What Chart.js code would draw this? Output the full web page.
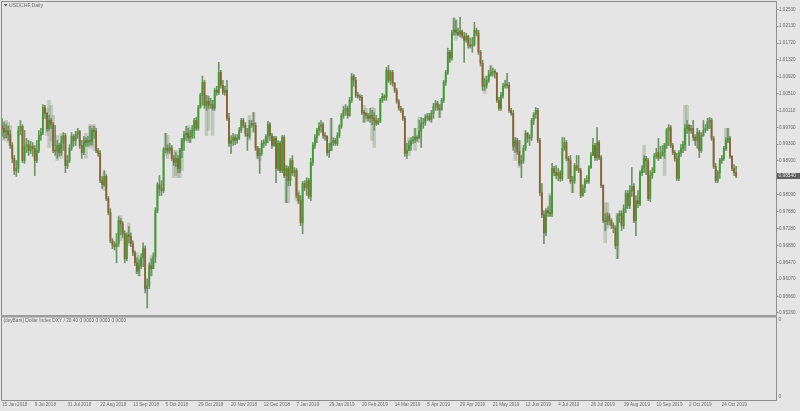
<!DOCTYPE html>
<html><head><meta charset="utf-8">
<script src="https://cdn.jsdelivr.net/npm/chart.js@4/dist/chart.umd.min.js"></script>
<style>html,body{margin:0;padding:0;background:#e5e5e5;}canvas{display:block;background:#e5e5e5;}</style>
</head><body>
<canvas id="c" width="800" height="411"></canvas>
<script>
const chartTitle = 'USDCHF,Daily';
const subTitle = '(dxyBars) Dollar Index DXY / 20.40 0.0000 0.0000 0.0000';
const tickLabels = ['15 Jun 2018','9 Jul 2018','31 Jul 2018','22 Aug 2018','13 Sep 2018','5 Oct 2018','29 Oct 2018','20 Nov 2018','12 Dec 2018','7 Jan 2019','29 Jan 2019','20 Feb 2019','14 Mar 2019','5 Apr 2019','29 Apr 2019','21 May 2019','12 Jun 2019','4 Jul 2019','26 Jul 2019','19 Aug 2019','10 Sep 2019','2 Oct 2019','24 Oct 2019'];
const barsPerTick = 16;
const totalSlots = 379;
const priceTicks = [1.02530,1.02130,1.01720,1.01320,1.00920,1.00510,1.00110,0.99700,0.99300,0.98900,0.98490,0.98090,0.97680,0.97280,0.96880,0.96470,0.96070,0.95660,0.95260];
const lastPrice = 0.98540;

const open = [
0.9975,0.9968,0.9958,0.9963,0.9953,0.9927,0.9896,0.9867,0.9872,0.9963,
0.9973,0.9891,0.9925,0.9929,0.9915,0.9925,0.9920,0.9891,0.9915,0.9951,
0.9958,1.0018,1.0004,0.9968,0.9987,0.9977,0.9915,0.9913,0.9927,0.9910,
0.9934,0.9951,0.9879,0.9891,0.9920,0.9949,0.9939,0.9953,0.9961,0.9927,
0.9910,0.9939,0.9934,0.9939,0.9937,0.9963,0.9961,0.9915,0.9908,0.9843,
0.9833,0.9853,0.9800,0.9766,0.9699,0.9689,0.9685,0.9692,0.9747,0.9740,
0.9716,0.9656,0.9713,0.9709,0.9692,0.9670,0.9646,0.9627,0.9639,0.9658,
0.9680,0.9584,0.9591,0.9639,0.9632,0.9661,0.9771,0.9833,0.9824,0.9819,
0.9917,0.9920,0.9915,0.9922,0.9896,0.9886,0.9896,0.9872,0.9915,0.9939,
0.9953,0.9956,0.9946,0.9949,0.9963,0.9987,0.9968,1.0018,1.0047,1.0078,
1.0023,1.0033,1.0023,1.0025,1.0016,1.0059,1.0054,1.0102,1.0071,1.0054,
1.0059,0.9992,0.9932,0.9939,0.9946,0.9939,0.9944,0.9963,0.9987,0.9975,
0.9956,0.9949,0.9975,0.9980,0.9975,0.9920,0.9903,0.9908,0.9932,0.9934,
0.9949,0.9977,0.9951,0.9927,0.9944,0.9872,0.9932,0.9867,0.9946,0.9855,
0.9872,0.9843,0.9891,0.9862,0.9867,0.9807,0.9795,0.9742,0.9836,0.9826,
0.9843,0.9805,0.9886,0.9927,0.9946,0.9963,0.9973,0.9977,0.9951,0.9949,
0.9910,0.9915,0.9934,0.9939,0.9932,0.9951,0.9973,0.9999,1.0011,1.0016,
0.9999,1.0035,1.0093,1.0083,1.0047,1.0045,1.0042,1.0006,1.0004,0.9999,
0.9992,0.9999,0.9992,0.9987,0.9980,0.9985,1.0035,1.0045,1.0042,1.0107,
1.0083,1.0102,1.0076,1.0059,1.0033,1.0016,1.0011,0.9992,0.9908,0.9915,
0.9927,0.9939,0.9941,0.9946,0.9944,0.9961,0.9980,0.9982,0.9994,0.9997,
0.9989,1.0004,1.0021,1.0028,1.0016,1.0013,1.0035,1.0078,1.0102,1.0150,
1.0136,1.0198,1.0203,1.0198,1.0193,1.0201,1.0189,1.0179,1.0189,1.0167,
1.0165,1.0169,1.0203,1.0196,1.0150,1.0124,1.0069,1.0071,1.0083,1.0097,
1.0102,1.0105,1.0100,1.0035,1.0016,1.0047,1.0069,1.0073,1.0071,1.0011,
1.0004,0.9925,0.9939,0.9913,0.9884,0.9891,0.9920,0.9956,0.9944,0.9946,
0.9987,1.0001,1.0011,0.9939,0.9814,0.9761,0.9718,0.9771,0.9766,0.9764,
0.9872,0.9862,0.9855,0.9862,0.9848,0.9920,0.9934,0.9896,0.9891,0.9841,
0.9843,0.9879,0.9872,0.9867,0.9807,0.9826,0.9843,0.9841,0.9874,0.9903,
0.9927,0.9898,0.9934,0.9898,0.9831,0.9747,0.9745,0.9759,0.9747,0.9735,
0.9730,0.9687,0.9759,0.9764,0.9735,0.9776,0.9812,0.9783,0.9819,0.9829,
0.9747,0.9795,0.9788,0.9862,0.9872,0.9896,0.9891,0.9800,0.9855,0.9862,
0.9901,0.9910,0.9896,0.9903,0.9910,0.9927,0.9963,0.9970,0.9927,0.9910,
0.9896,0.9848,0.9910,0.9920,0.9929,0.9968,0.9975,0.9963,0.9968,0.9946,
0.9939,0.9958,0.9915,0.9951,0.9963,0.9968,0.9982,0.9987,0.9944,0.9877,
0.9843,0.9862,0.9891,0.9896,0.9920,0.9939,0.9944,0.9901,0.9872,0.9862];

const high = [
0.9992,0.9982,0.9977,0.9973,0.9963,0.9934,0.9903,0.9891,0.9973,0.9987,
0.9977,0.9963,0.9944,0.9939,0.9937,0.9934,0.9927,0.9939,0.9963,0.9968,
1.0025,1.0023,1.0006,0.9999,0.9992,0.9982,0.9975,0.9939,0.9932,0.9949,
0.9958,0.9956,0.9903,0.9929,0.9958,0.9953,0.9961,0.9968,0.9963,0.9939,
0.9949,0.9946,0.9949,0.9973,0.9968,0.9973,0.9968,0.9920,0.9915,0.9853,
0.9867,0.9857,0.9805,0.9776,0.9704,0.9697,0.9716,0.9757,0.9752,0.9745,
0.9723,0.9718,0.9733,0.9718,0.9699,0.9675,0.9658,0.9653,0.9668,0.9694,
0.9687,0.9608,0.9646,0.9656,0.9670,0.9778,0.9838,0.9855,0.9843,0.9922,
0.9956,0.9929,0.9932,0.9927,0.9903,0.9910,0.9903,0.9920,0.9944,0.9961,
0.9973,0.9968,0.9963,0.9975,0.9992,0.9994,1.0023,1.0052,1.0093,1.0083,
1.0047,1.0045,1.0040,1.0035,1.0064,1.0069,1.0126,1.0107,1.0083,1.0069,
1.0083,1.0004,0.9951,0.9956,0.9953,0.9953,0.9970,0.9992,0.9992,0.9982,
0.9968,0.9987,0.9987,1.0006,0.9982,0.9925,0.9920,0.9939,0.9941,0.9953,
0.9985,0.9982,0.9956,0.9949,0.9949,0.9939,0.9937,0.9951,0.9951,0.9879,
0.9877,0.9896,0.9903,0.9874,0.9872,0.9814,0.9807,0.9841,0.9843,0.9850,
0.9848,0.9896,0.9934,0.9953,0.9968,0.9982,0.9987,0.9982,0.9958,0.9951,
0.9932,0.9992,0.9946,0.9944,0.9958,0.9977,1.0004,1.0021,1.0025,1.0021,
1.0042,1.0100,1.0097,1.0090,1.0054,1.0049,1.0047,1.0011,1.0006,1.0004,
1.0016,1.0011,1.0006,0.9999,0.9992,1.0040,1.0052,1.0049,1.0114,1.0119,
1.0107,1.0107,1.0078,1.0064,1.0037,1.0021,1.0016,0.9997,0.9932,0.9939,
0.9946,0.9949,0.9968,0.9951,0.9987,0.9994,0.9992,1.0001,1.0004,1.0004,
1.0011,1.0028,1.0035,1.0033,1.0025,1.0040,1.0083,1.0107,1.0160,1.0155,
1.0203,1.0232,1.0227,1.0208,1.0234,1.0203,1.0198,1.0196,1.0191,1.0184,
1.0186,1.0222,1.0208,1.0203,1.0155,1.0131,1.0088,1.0093,1.0107,1.0117,
1.0112,1.0109,1.0102,1.0042,1.0054,1.0076,1.0083,1.0100,1.0078,1.0016,
1.0011,0.9946,0.9944,0.9939,0.9903,0.9927,0.9963,0.9958,0.9953,0.9992,
1.0006,1.0018,1.0016,0.9944,0.9836,0.9771,0.9776,0.9781,0.9807,0.9884,
0.9877,0.9879,0.9872,0.9867,0.9946,0.9946,0.9939,0.9901,0.9903,0.9853,
0.9884,0.9903,0.9903,0.9872,0.9833,0.9848,0.9855,0.9879,0.9910,0.9944,
0.9932,0.9970,0.9939,0.9903,0.9833,0.9764,0.9766,0.9764,0.9752,0.9742,
0.9735,0.9764,0.9771,0.9771,0.9785,0.9819,0.9819,0.9831,0.9874,0.9836,
0.9807,0.9819,0.9867,0.9879,0.9903,0.9901,0.9896,0.9867,0.9874,0.9908,
0.9920,0.9944,0.9925,0.9927,0.9932,0.9968,0.9977,0.9975,0.9932,0.9915,
0.9908,0.9915,0.9929,0.9937,0.9977,0.9987,0.9977,0.9975,0.9987,0.9953,
0.9968,0.9963,0.9958,0.9987,0.9977,0.9992,0.9994,0.9992,0.9949,0.9884,
0.9867,0.9896,0.9903,0.9925,0.9946,0.9968,0.9949,0.9903,0.9881,0.9877];

const low = [
0.9949,0.9944,0.9946,0.9939,0.9920,0.9886,0.9857,0.9853,0.9862,0.9953,
0.9886,0.9884,0.9910,0.9903,0.9908,0.9901,0.9855,0.9886,0.9910,0.9939,
0.9953,0.9992,0.9961,0.9963,0.9968,0.9910,0.9903,0.9896,0.9901,0.9903,
0.9915,0.9862,0.9872,0.9886,0.9915,0.9925,0.9927,0.9944,0.9920,0.9896,
0.9905,0.9925,0.9925,0.9927,0.9929,0.9944,0.9910,0.9901,0.9838,0.9824,
0.9829,0.9795,0.9761,0.9694,0.9680,0.9677,0.9646,0.9685,0.9713,0.9706,
0.9646,0.9651,0.9694,0.9685,0.9663,0.9639,0.9620,0.9615,0.9632,0.9637,
0.9574,0.9538,0.9584,0.9615,0.9632,0.9646,0.9766,0.9807,0.9807,0.9814,
0.9910,0.9908,0.9908,0.9891,0.9879,0.9877,0.9862,0.9862,0.9898,0.9915,
0.9939,0.9939,0.9934,0.9944,0.9944,0.9963,0.9963,1.0016,1.0023,1.0016,
1.0011,1.0016,1.0016,1.0011,1.0011,1.0047,1.0049,1.0064,1.0049,1.0047,
0.9987,0.9925,0.9908,0.9927,0.9929,0.9932,0.9941,0.9958,0.9970,0.9949,
0.9915,0.9944,0.9970,0.9961,0.9915,0.9896,0.9860,0.9903,0.9922,0.9927,
0.9934,0.9939,0.9920,0.9925,0.9838,0.9867,0.9862,0.9862,0.9850,0.9790,
0.9831,0.9831,0.9855,0.9853,0.9802,0.9788,0.9735,0.9716,0.9819,0.9807,
0.9800,0.9795,0.9879,0.9920,0.9934,0.9951,0.9958,0.9944,0.9939,0.9903,
0.9898,0.9915,0.9927,0.9927,0.9927,0.9946,0.9968,0.9992,0.9999,0.9992,
0.9997,1.0030,1.0069,1.0042,1.0040,1.0035,1.0001,0.9982,0.9992,0.9985,
0.9982,0.9977,0.9963,0.9975,0.9977,0.9982,1.0030,1.0035,1.0035,1.0078,
1.0073,1.0069,1.0054,1.0028,1.0011,1.0006,0.9987,0.9901,0.9896,0.9915,
0.9915,0.9932,0.9934,0.9937,0.9944,0.9922,0.9968,0.9975,0.9987,0.9985,
0.9982,0.9992,1.0011,1.0011,0.9994,1.0011,1.0030,1.0071,1.0097,1.0126,
1.0131,1.0191,1.0191,1.0189,1.0186,1.0184,1.0126,1.0174,1.0160,1.0160,
1.0150,1.0165,1.0189,1.0145,1.0117,1.0059,1.0059,1.0064,1.0078,1.0093,
1.0093,1.0088,1.0030,1.0011,1.0011,1.0040,1.0064,1.0064,1.0006,0.9999,
0.9915,0.9910,0.9905,0.9879,0.9850,0.9884,0.9915,0.9934,0.9927,0.9939,
0.9977,0.9992,0.9934,0.9807,0.9754,0.9692,0.9711,0.9757,0.9757,0.9757,
0.9855,0.9848,0.9843,0.9841,0.9843,0.9915,0.9891,0.9848,0.9836,0.9814,
0.9836,0.9867,0.9862,0.9802,0.9805,0.9814,0.9836,0.9836,0.9872,0.9903,
0.9891,0.9891,0.9893,0.9826,0.9742,0.9723,0.9737,0.9737,0.9728,0.9718,
0.9680,0.9656,0.9742,0.9723,0.9728,0.9766,0.9776,0.9776,0.9805,0.9742,
0.9711,0.9778,0.9783,0.9855,0.9862,0.9857,0.9795,0.9793,0.9848,0.9862,
0.9896,0.9891,0.9896,0.9901,0.9896,0.9920,0.9927,0.9922,0.9905,0.9889,
0.9843,0.9843,0.9901,0.9910,0.9915,0.9956,0.9927,0.9956,0.9939,0.9927,
0.9920,0.9898,0.9910,0.9949,0.9958,0.9963,0.9968,0.9939,0.9872,0.9838,
0.9838,0.9848,0.9884,0.9891,0.9915,0.9934,0.9896,0.9867,0.9855,0.9850];

const close = [
0.9968,0.9958,0.9963,0.9953,0.9927,0.9896,0.9867,0.9872,0.9963,0.9973,
0.9891,0.9925,0.9929,0.9915,0.9925,0.9920,0.9891,0.9915,0.9951,0.9958,
1.0018,1.0004,0.9968,0.9987,0.9977,0.9915,0.9913,0.9927,0.9910,0.9934,
0.9951,0.9879,0.9891,0.9920,0.9949,0.9939,0.9953,0.9961,0.9927,0.9910,
0.9939,0.9934,0.9939,0.9937,0.9963,0.9961,0.9915,0.9908,0.9843,0.9833,
0.9853,0.9800,0.9766,0.9699,0.9689,0.9685,0.9692,0.9747,0.9740,0.9716,
0.9656,0.9713,0.9709,0.9692,0.9670,0.9646,0.9627,0.9639,0.9658,0.9680,
0.9584,0.9591,0.9639,0.9632,0.9661,0.9771,0.9833,0.9824,0.9819,0.9917,
0.9920,0.9915,0.9922,0.9896,0.9886,0.9896,0.9872,0.9915,0.9939,0.9953,
0.9956,0.9946,0.9949,0.9963,0.9987,0.9968,1.0018,1.0047,1.0078,1.0023,
1.0033,1.0023,1.0025,1.0016,1.0059,1.0054,1.0102,1.0071,1.0054,1.0059,
0.9992,0.9932,0.9939,0.9946,0.9939,0.9944,0.9963,0.9987,0.9975,0.9956,
0.9949,0.9975,0.9980,0.9975,0.9920,0.9903,0.9908,0.9932,0.9934,0.9949,
0.9977,0.9951,0.9927,0.9944,0.9872,0.9932,0.9867,0.9946,0.9855,0.9872,
0.9843,0.9891,0.9862,0.9867,0.9807,0.9795,0.9742,0.9836,0.9826,0.9843,
0.9805,0.9886,0.9927,0.9946,0.9963,0.9973,0.9977,0.9951,0.9949,0.9910,
0.9915,0.9934,0.9939,0.9932,0.9951,0.9973,0.9999,1.0011,1.0016,0.9999,
1.0035,1.0093,1.0083,1.0047,1.0045,1.0042,1.0006,1.0004,0.9999,0.9992,
0.9999,0.9992,0.9987,0.9980,0.9985,1.0035,1.0045,1.0042,1.0107,1.0083,
1.0102,1.0076,1.0059,1.0033,1.0016,1.0011,0.9992,0.9908,0.9915,0.9927,
0.9939,0.9941,0.9946,0.9944,0.9961,0.9980,0.9982,0.9994,0.9997,0.9989,
1.0004,1.0021,1.0028,1.0016,1.0013,1.0035,1.0078,1.0102,1.0150,1.0136,
1.0198,1.0203,1.0198,1.0193,1.0201,1.0189,1.0179,1.0189,1.0167,1.0165,
1.0169,1.0203,1.0196,1.0150,1.0124,1.0069,1.0071,1.0083,1.0097,1.0102,
1.0105,1.0100,1.0035,1.0016,1.0047,1.0069,1.0073,1.0071,1.0011,1.0004,
0.9925,0.9939,0.9913,0.9884,0.9891,0.9920,0.9956,0.9944,0.9946,0.9987,
1.0001,1.0011,0.9939,0.9814,0.9761,0.9718,0.9771,0.9766,0.9764,0.9872,
0.9862,0.9855,0.9862,0.9848,0.9920,0.9934,0.9896,0.9891,0.9841,0.9843,
0.9879,0.9872,0.9867,0.9807,0.9826,0.9843,0.9841,0.9874,0.9903,0.9927,
0.9898,0.9934,0.9898,0.9831,0.9747,0.9745,0.9759,0.9747,0.9735,0.9730,
0.9687,0.9759,0.9764,0.9735,0.9776,0.9812,0.9783,0.9819,0.9829,0.9747,
0.9795,0.9788,0.9862,0.9872,0.9896,0.9891,0.9800,0.9855,0.9862,0.9901,
0.9910,0.9896,0.9903,0.9910,0.9927,0.9963,0.9970,0.9927,0.9910,0.9896,
0.9848,0.9910,0.9920,0.9929,0.9968,0.9975,0.9963,0.9968,0.9946,0.9939,
0.9958,0.9915,0.9951,0.9963,0.9968,0.9982,0.9987,0.9944,0.9877,0.9843,
0.9862,0.9891,0.9896,0.9920,0.9939,0.9944,0.9901,0.9872,0.9862,0.9854];

// Dollar Index overlay bars (scaled onto the price axis), only where visible around the candles
const dxyIndex = [1,2,3,4,22,23,24,25,27,29,41,43,44,45,50,58,62,66,67,73,80,81,84,85,86,87,88,91,92,100,101,103,121,123,125,126,139,140,144,145,161,177,178,181,182,199,202,204,214,219,221,222,236,239,251,253,268,277,279,295,296,301,314,324,334,335,346,354,355];
const dxyHigh = [0.9985,0.9987,0.9982,0.9975,1.0016,1.0035,1.0023,0.9999,0.9951,0.9956,0.9956,0.9977,0.9975,0.9977,0.9862,0.9759,0.9742,0.9670,0.9663,0.9663,0.9956,0.9951,0.9915,0.9915,0.9896,0.9920,0.9944,0.9975,0.9970,1.0047,1.0040,1.0035,0.9999,1.0006,0.9925,0.9920,0.9879,0.9872,0.9867,0.9819,0.9992,1.0023,1.0016,1.0018,1.0016,0.9946,0.9968,0.9994,1.0025,1.0155,1.0232,1.0227,1.0093,1.0119,0.9946,0.9939,0.9812,0.9896,0.9853,0.9790,0.9790,0.9764,0.9927,0.9932,1.0023,1.0023,0.9992,0.9968,0.9968];
const dxyLow = [0.9939,0.9944,0.9934,0.9927,0.9951,0.9922,0.9939,0.9927,0.9891,0.9896,0.9896,0.9920,0.9925,0.9915,0.9819,0.9699,0.9687,0.9620,0.9615,0.9615,0.9903,0.9896,0.9850,0.9855,0.9850,0.9850,0.9867,0.9934,0.9934,0.9951,0.9963,0.9951,0.9939,0.9958,0.9896,0.9891,0.9790,0.9790,0.9795,0.9788,0.9915,0.9982,0.9985,0.9939,0.9922,0.9903,0.9915,0.9934,0.9994,1.0131,1.0191,1.0179,1.0052,1.0093,0.9891,0.9874,0.9757,0.9848,0.9814,0.9694,0.9728,0.9656,0.9862,0.9855,0.9915,0.9956,0.9968,0.9915,0.9934];

const FRAME = '#8e8e8e';
const TEXT = '#6a6a6a';
const WICK = '#6f9463';
const BULL = '#3f9c32';
const BEAR = '#8f6236';
const DXY = 'rgba(140,160,128,0.42)';
const FONT = "'Liberation Sans', Arial, sans-serif";

const slots = Array.from({length: totalSlots}, (_, i) => String(i));
const wickData = low.map((l, i) => [l, high[i]]);
const bodyData = open.map((o, i) => [o, close[i]]);
const bodyColors = open.map((o, i) => close[i] >= o ? BULL : BEAR);
const dxyData = dxyIndex.map((idx, k) => ({ x: String(idx), y: [dxyLow[k], dxyHigh[k]] }));

const framePlugin = {
  id: 'frame',
  afterDraw(chart) {
    const {ctx} = chart;
    const a = chart.chartArea;
    ctx.save();
    ctx.strokeStyle = FRAME; ctx.lineWidth = 1;
    ctx.beginPath();
    ctx.moveTo(1.5, 1.5); ctx.lineTo(776.5, 1.5);
    ctx.moveTo(1.5, 1.5); ctx.lineTo(1.5, 400.5);
    ctx.moveTo(776.5, 1.5); ctx.lineTo(776.5, 400.5);
    ctx.moveTo(1.5, 400.5); ctx.lineTo(776.5, 400.5);
    ctx.stroke();
    ctx.fillStyle = '#9c9c9c';
    ctx.fillRect(1, a.bottom, 776, 2.5);
    ctx.fillStyle = '#555555';
    ctx.beginPath(); ctx.moveTo(4, 4); ctx.lineTo(7.5, 4); ctx.lineTo(5.75, 6.5); ctx.closePath(); ctx.fill();
    ctx.font = '5.2px ' + FONT; ctx.textBaseline = 'middle'; ctx.textAlign = 'left';
    ctx.fillStyle = TEXT;
    ctx.fillText(chartTitle, 9, 5.5);
    ctx.font = '4.8px ' + FONT;
    ctx.fillText(subTitle, 3.5, 321);
    ctx.fillText('0', 778.5, 320);
    ctx.fillText('0', 778.5, 397);
    const py = chart.scales.y.getPixelForValue(lastPrice);
    ctx.fillStyle = '#5e5e5e';
    ctx.fillRect(777, py - 3, 23, 6);
    ctx.fillStyle = '#e8e8e8';
    ctx.fillText(lastPrice.toFixed(5), 778.5, py + 0.2);
    ctx.restore();
  }
};

new Chart(document.getElementById('c'), {
  type: 'bar',
  data: {
    labels: slots,
    datasets: [
      { label: 'dxy', data: dxyData, backgroundColor: DXY, barThickness: 3, grouped: false, borderWidth: 0, order: 3 },
      { label: 'wick', data: wickData, backgroundColor: WICK, barThickness: 1, grouped: false, borderWidth: 0, order: 2 },
      { label: 'body', data: bodyData, backgroundColor: bodyColors, barThickness: 1.2, grouped: false, borderWidth: 0, minBarLength: 1, order: 1 }
    ]
  },
  options: {
    responsive: false,
    animation: false,
    events: [],
    devicePixelRatio: 1,
    layout: { padding: { top: 2, left: 1, right: 0, bottom: 0 } },
    plugins: { legend: { display: false }, tooltip: { enabled: false }, title: { display: false } },
    scales: {
      x: {
        type: 'category',
        offset: true,
        grid: { display: false, drawTicks: false },
        border: { display: false },
        ticks: {
          autoSkip: false, maxRotation: 0, minRotation: 0, align: 'start', padding: 87,
          color: TEXT, font: { size: 4.6, family: FONT },
          callback: (v, i) => (i % barsPerTick === 0 && i / barsPerTick < tickLabels.length) ? tickLabels[i / barsPerTick] : null
        },
        afterFit: (s) => { s.height = 96; s.paddingLeft = 0; s.paddingRight = 0; }
      },
      y: {
        position: 'right',
        min: 0.952121, max: 1.0270475,
        grid: { drawOnChartArea: false, drawTicks: true, tickLength: 2.5, color: FRAME },
        border: { display: false },
        ticks: { padding: 0.5, color: TEXT, font: { size: 4.6, family: FONT }, callback: (v) => Number(v).toFixed(5) },
        afterBuildTicks: (s) => { s.ticks = priceTicks.map(v => ({ value: v })); },
        afterFit: (s) => { s.width = 24; s.paddingTop = 0; s.paddingBottom = 0; }
      }
    }
  },
  plugins: [framePlugin]
});
</script>
</body></html>
